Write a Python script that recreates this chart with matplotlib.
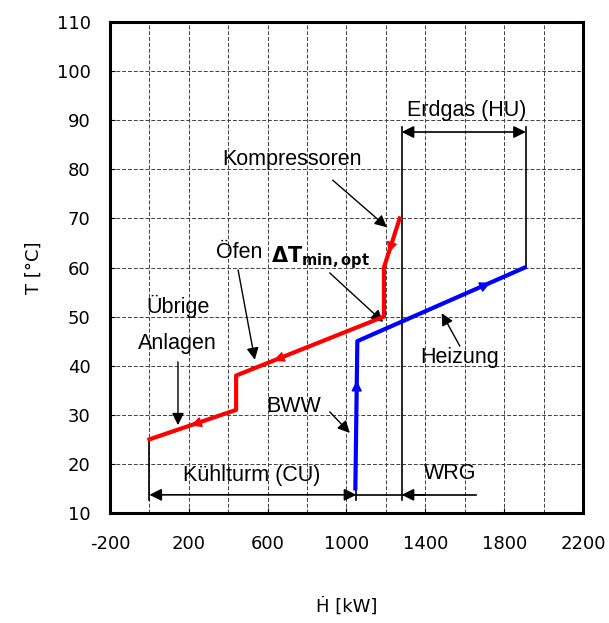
import matplotlib
matplotlib.use('Agg')
import matplotlib.pyplot as plt

plt.rcParams['axes.unicode_minus'] = False

# Heiße Verbundkurve (Abwärme)
hot_H = [0, 440, 440, 1190, 1190, 1270]
hot_T = [25, 31, 38, 50, 60, 70]

# Kalte Verbundkurve (Bedarf)
cold_H = [1045, 1055, 1905]
cold_T = [15, 45, 60]

# Richtungspfeile auf den Kurven: (H, T, dH, dT)
hot_arrows = [(1222, 64, -8, -1), (680, 41.8, -50, -0.8), (260, 28.5, -50, -0.7)]
cold_arrows = [(1052, 36, 0.3, 1), (1680, 56, 50, 0.9)]

# Beschriftungen: Text, Position
labels = [
    ('Erdgas (HU)', 1610, 92),
    ('Kompressoren', 725, 82),
    ('Öfen', 455, 63),
    ('Übrige', 145, 52),
    ('Anlagen', 140, 44.6),
    ('Heizung', 1575, 41.6),
    ('BWW', 730, 31.6),
    ('Kühlturm (CU)', 520, 17.7),
    ('WRG', 1525, 18.1),
]

# Hinweispfeile: (von H, von T, nach H, nach T)
pointers = [
    (930, 77.8, 1205, 68.2),
    (450, 59.5, 535, 41.2),
    (915, 58.9, 1186, 48.9),
    (145, 40.8, 145, 27.9),
    (1575, 44.0, 1483, 50.7),
    (915, 30.6, 1017, 26.3),
]

# Bemaßungslinien
cu_left, cu_right, cu_y = 0, 1050, 13.7
wrg_left, wrg_right = 1280, 1655
hu_left, hu_right, hu_y = 1280, 1910, 87.6

fig = plt.figure(figsize=(6.09, 6.23), dpi=100)
ax = fig.add_axes([0.1806, 0.1766, 0.7767, 0.788])

ax.set_xlim(-200, 2200)
ax.set_ylim(10, 110)
ax.set_xticks(range(-200, 2201, 400))
ax.set_xticks(range(-200, 2201, 200), minor=True)
ax.set_yticks(range(10, 111, 10))
ax.tick_params(which='both', direction='in', labelsize=13, pad=16)
ax.tick_params(axis='x', which='minor', length=0)
ax.tick_params(axis='y', pad=14)
ax.grid(True, which='both', color='0.25', linestyle=(0, (4, 2)), linewidth=0.7)
for s in ax.spines.values():
    s.set_linewidth(2.2)

ax.plot(hot_H, hot_T, color='#ff0000', lw=3, zorder=5)
ax.plot(cold_H, cold_T, color='#0000ff', lw=3, zorder=5)

for x, y, dx, dy in hot_arrows:
    ax.annotate('', xy=(x + dx, y + dy), xytext=(x, y), zorder=6,
                arrowprops=dict(arrowstyle='-|>', color='#ff0000', lw=1, mutation_scale=16,
                                shrinkA=0, shrinkB=0))
for x, y, dx, dy in cold_arrows:
    ax.annotate('', xy=(x + dx, y + dy), xytext=(x, y), zorder=6,
                arrowprops=dict(arrowstyle='-|>', color='#0000ff', lw=1, mutation_scale=16,
                                shrinkA=0, shrinkB=0))

# Bemaßung Kühlturm / WRG / Erdgas
ax.plot([cu_left, cu_left], [12.6, hot_T[0]], color='k', lw=1.2)
ax.plot([hu_left, hu_left], [12.6, 88.6], color='k', lw=1.2)
ax.plot([hu_right, hu_right], [cold_T[-1], 88.6], color='k', lw=1.2)
ax.plot([cu_right, cu_right], [12.6, 15], color='k', lw=1.2)
ax.annotate('', xy=(cu_left, cu_y), xytext=(cu_right, cu_y),
            arrowprops=dict(arrowstyle='<|-|>', color='k', lw=1.2, mutation_scale=18, shrinkA=0, shrinkB=0))
ax.plot([cu_right, wrg_right], [cu_y, cu_y], color='k', lw=1.2)
ax.annotate('', xy=(wrg_left, cu_y), xytext=(wrg_left + 120, cu_y),
            arrowprops=dict(arrowstyle='-|>', color='k', lw=1.2, mutation_scale=18, shrinkA=0, shrinkB=0))
ax.annotate('', xy=(hu_left, hu_y), xytext=(hu_right, hu_y),
            arrowprops=dict(arrowstyle='<|-|>', color='k', lw=1.2, mutation_scale=18, shrinkA=0, shrinkB=0))

for text, x, y in labels:
    ax.text(x, y, text, ha='center', va='center', fontsize=15.5,
            family='Liberation Sans', zorder=7)
ax.text(870, 62, r'$\mathbf{\Delta T}_{\mathbf{min,opt}}$', ha='center', va='center',
        fontsize=15, zorder=7)

for x0, y0, x1, y1 in pointers:
    ax.annotate('', xy=(x1, y1), xytext=(x0, y0),
                arrowprops=dict(arrowstyle='-|>', color='k', lw=1.0, mutation_scale=18, shrinkA=0, shrinkB=0))

ax.set_xlabel('Ḣ [kW]', fontsize=13, labelpad=32)
ax.set_ylabel('T [°C]', fontsize=13, labelpad=10)

fig.savefig('out.png', dpi=100)
